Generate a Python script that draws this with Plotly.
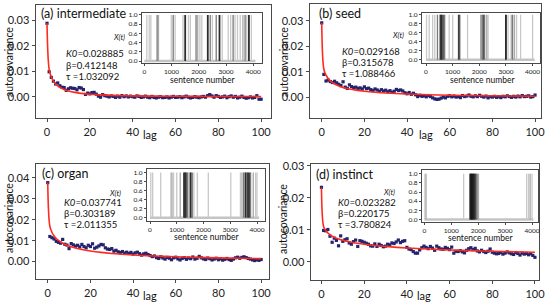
import plotly.graph_objects as go

W, H = 548, 302

# ---------------- data ----------------
panel_titles = ["(a) intermediate", "(b) seed", "(c) organ", "(d) instinct"]
K0_vals = ["0.028885", "0.029168", "0.037741", "0.023282"]
beta_vals = ["0.412148", "0.315678", "0.303189", "0.220175"]
tau_vals = ["1.032092", "1.088466", "2.011355", "3.780824"]

lags = list(range(101))

acov_a = [0.0289, 0.0098, 0.0076, 0.0061, 0.0050, 0.0054, 0.0043, 0.0037, 0.0036, 0.0025,
          0.0031, 0.0035, 0.0033, 0.0032, 0.0027, 0.0036, 0.0034, 0.0028, 0.0009, 0.0014,
          0.0011, 0.0016, 0.0017, 0.0010, 0.0002, -0.0002, 0.0008, 0.0004, 0.0002, -0.0001,
          0.0003, 0.0001, -0.0003, 0.0002, -0.0002, 0.0004, 0.0000, 0.0003, -0.0001, 0.0002,
          0.0000, -0.0002, 0.0003, 0.0001, -0.0003, -0.0001, 0.0002, -0.0002, -0.0004, 0.0001,
          -0.0003, -0.0005, -0.0002, 0.0000, -0.0004, -0.0003, -0.0001, -0.0005, -0.0002, 0.0001,
          -0.0003, -0.0002, 0.0000, -0.0004, -0.0001, 0.0002, -0.0002, -0.0005, -0.0003, 0.0000,
          -0.0002, -0.0004, -0.0001, 0.0001, -0.0002, 0.0004, 0.0008, 0.0003, -0.0002, 0.0004,
          0.0001, -0.0003, -0.0001, 0.0002, -0.0004, 0.0000, 0.0003, -0.0002, 0.0001, -0.0005,
          -0.0002, 0.0002, -0.0003, -0.0006, -0.0004, -0.0001, -0.0005, -0.0003, 0.0004, -0.0010,
          -0.0010]

acov_b = [0.0292, 0.0090, 0.0064, 0.0068, 0.0062, 0.0058, 0.0063, 0.0057, 0.0051, 0.0046,
          0.0061, 0.0040, 0.0035, 0.0049, 0.0042, 0.0038, 0.0040, 0.0035, 0.0037, 0.0033,
          0.0041, 0.0034, 0.0036, 0.0030, 0.0027, 0.0033, 0.0029, 0.0024, 0.0030, 0.0025,
          0.0028, 0.0022, 0.0026, 0.0020, 0.0024, 0.0031, 0.0027, 0.0029, 0.0025, 0.0018,
          0.0014, 0.0019, 0.0012, 0.0016, 0.0010, 0.0003, 0.0008, 0.0004, 0.0006, 0.0002,
          0.0007, 0.0003, -0.0002, -0.0006, -0.0008, -0.0007, -0.0003, 0.0001, -0.0002, 0.0004,
          0.0006, 0.0002, 0.0005, 0.0001, 0.0003, -0.0001, 0.0007, 0.0003, 0.0005, 0.0009,
          0.0004, 0.0002, 0.0006, 0.0003, 0.0008, 0.0004, 0.0001, 0.0005, -0.0002, 0.0003,
          0.0001, 0.0004, 0.0000, 0.0003, -0.0001, 0.0004, 0.0002, 0.0006, 0.0003, 0.0000,
          0.0004, 0.0001, 0.0005, 0.0002, 0.0007, 0.0003, 0.0004, 0.0006, 0.0001, 0.0003,
          0.0009]

acov_c = [0.0377, 0.0120, 0.0114, 0.0108, 0.0097, 0.0092, 0.0088, 0.0106, 0.0083, 0.0079,
          0.0062, 0.0086, 0.0080, 0.0074, 0.0078, 0.0070, 0.0082, 0.0072, 0.0066, 0.0078,
          0.0072, 0.0085, 0.0064, 0.0069, 0.0075, 0.0082, 0.0080, 0.0066, 0.0060, 0.0058,
          0.0062, 0.0050, 0.0054, 0.0047, 0.0043, 0.0048, 0.0041, 0.0045, 0.0039, 0.0044,
          0.0036, 0.0042, 0.0045, 0.0038, 0.0031, 0.0037, 0.0040, 0.0034, 0.0029, 0.0024,
          0.0027, 0.0019, 0.0015, 0.0023, 0.0017, 0.0012, 0.0020, 0.0016, 0.0009, 0.0018,
          0.0021, 0.0013, 0.0008, 0.0015, 0.0019, 0.0011, 0.0017, 0.0014, 0.0022, 0.0012,
          0.0016, 0.0025, 0.0018, 0.0013, 0.0010, 0.0017, 0.0014, 0.0008, 0.0012, 0.0016,
          0.0009, 0.0013, 0.0007, 0.0011, 0.0015, 0.0010, 0.0006, 0.0012, 0.0018, 0.0021,
          0.0016, 0.0020, 0.0023, 0.0019, 0.0015, 0.0012, 0.0008, 0.0005, 0.0009, 0.0006,
          0.0010]

acov_d = [0.0233, 0.0098, 0.0097, 0.0101, 0.0080, 0.0061, 0.0074, 0.0067, 0.0050, 0.0081,
          0.0064, 0.0069, 0.0072, 0.0059, 0.0055, 0.0063, 0.0068, 0.0048, 0.0066, 0.0064,
          0.0061, 0.0058, 0.0055, 0.0050, 0.0049, 0.0056, 0.0048, 0.0055, 0.0051, 0.0047,
          0.0049, 0.0055, 0.0053, 0.0059, 0.0057, 0.0062, 0.0068, 0.0060, 0.0064, 0.0066,
          0.0045, 0.0040, 0.0038, 0.0032, 0.0027, 0.0027, 0.0037, 0.0044, 0.0049, 0.0045,
          0.0041, 0.0048, 0.0043, 0.0036, 0.0049, 0.0044, 0.0040, 0.0039, 0.0045, 0.0042,
          0.0038, 0.0046, 0.0027, 0.0033, 0.0032, 0.0035, 0.0031, 0.0028, 0.0036, 0.0041,
          0.0044, 0.0038, 0.0042, 0.0034, 0.0031, 0.0036, 0.0032, 0.0029, 0.0033, 0.0040,
          0.0030, 0.0027, 0.0025, 0.0026, 0.0029, 0.0024, 0.0027, 0.0031, 0.0028, 0.0025,
          0.0023, 0.0029, 0.0026, 0.0021, 0.0027, 0.0024, 0.0026, 0.0022, 0.0025, 0.0020,
          0.0014]

fit_lags = [0, 1, 2, 3, 4, 5, 6, 8, 10, 13, 16, 20, 25, 30, 40, 50, 60, 70, 80, 90, 100]
fit_a = [0.02889, 0.01077, 0.00777, 0.00612, 0.00503, 0.00425, 0.00366, 0.00282, 0.00226, 0.00169,
         0.00131, 0.00097, 0.00070, 0.00052, 0.00032, 0.00021, 0.00014, 0.00010, 0.00007, 0.00005, 0.00004]
fit_b = [0.02917, 0.01102, 0.00868, 0.00736, 0.00646, 0.00578, 0.00525, 0.00446, 0.00389, 0.00327,
         0.00282, 0.00238, 0.00198, 0.00169, 0.00129, 0.00103, 0.00084, 0.00070, 0.00060, 0.00052, 0.00045]
fit_c = [0.03774, 0.01681, 0.01391, 0.01220, 0.01101, 0.01010, 0.00937, 0.00826, 0.00742, 0.00649,
         0.00579, 0.00508, 0.00441, 0.00390, 0.00317, 0.00267, 0.00229, 0.00201, 0.00178, 0.00159, 0.00144]
fit_d = [0.02328, 0.01104, 0.00976, 0.00900, 0.00846, 0.00804, 0.00770, 0.00716, 0.00674, 0.00627,
         0.00589, 0.00550, 0.00511, 0.00481, 0.00433, 0.00398, 0.00370, 0.00348, 0.00329, 0.00312, 0.00298]

# occurrence positions (sentence number) and number of overlapping occurrences
occ_pos_a = [90, 180, 240, 470, 520, 990, 1060, 1130, 1420, 1500, 1620, 1690, 1900, 1960, 2040,
             2110, 2330, 2420, 2500, 2640, 2760, 2860, 3080, 3170, 3260, 3330, 3420, 3520, 3620,
             3700, 3760, 3840, 3930]
occ_cnt_a = [1, 1, 1, 3, 2, 1, 3, 1, 1, 6, 1, 1, 3, 2, 1,
             1, 6, 3, 1, 3, 6, 1, 1, 1, 3, 1, 1, 1, 2,
             3, 1, 6, 1]
occ_pos_b = [20, 120, 250, 330, 430, 540, 580, 640, 700, 870, 1000, 1230, 1270, 1560, 2050,
             2100, 2150, 2200, 2280, 2330, 3000, 3080, 3200, 3250, 3320, 3400, 3550, 4000]
occ_cnt_b = [1, 1, 1, 1, 3, 5, 6, 4, 3, 1, 1, 5, 3, 1, 2,
             3, 4, 3, 2, 1, 7, 1, 2, 3, 2, 1, 1, 1]
occ_pos_c = [30, 100, 400, 780, 820, 880, 1000, 1130, 1270, 1310, 1350, 1400, 1460, 1520, 1580,
             1640, 1770, 2180, 3020, 3380, 3440, 3500, 3570, 3640, 3700, 3760, 3860, 3950, 4000]
occ_cnt_c = [1, 1, 1, 1, 2, 1, 1, 2, 5, 6, 4, 3, 2, 6, 3,
             1, 1, 1, 1, 1, 2, 3, 6, 5, 6, 3, 2, 1, 1]
occ_pos_d = [20, 60, 1460, 1700, 1730, 1760, 1790, 1830, 1870, 1910, 1960, 2010, 3800, 3870, 3930, 4000]
occ_cnt_d = [1, 2, 1, 5, 7, 8, 6, 7, 5, 4, 3, 2, 1, 1, 2, 1]
sentence_total = [4080, 4080, 4080, 4050]

acov_all = [acov_a, acov_b, acov_c, acov_d]
fit_all = [fit_a, fit_b, fit_c, fit_d]
occ_pos_all = [occ_pos_a, occ_pos_b, occ_pos_c, occ_pos_d]
occ_cnt_all = [occ_cnt_a, occ_cnt_b, occ_cnt_c, occ_cnt_d]

# ---------------- layout geometry (pixels) ----------------
main_box = [(36, 271, 5, 118), (310, 541, 4, 118), (36, 269, 164, 279), (311, 539, 164, 280)]
main_xr = [[-5.14, 104.6], [-5.5, 102.8], [-5.5, 103.7], [-4.9, 101.9]]
main_yr = [[-0.0084, 0.0361], [-0.0081, 0.0366], [-0.0083, 0.0466], [-0.0057, 0.0306]]
main_ytick = [[0, 0.01, 0.02, 0.03], [0, 0.01, 0.02, 0.03], [0, 0.01, 0.02, 0.03, 0.04], [0, 0.01, 0.02, 0.03]]
ins_box = [(142, 262, 13, 63), (422, 540, 13, 63), (147, 265, 169, 221), (422, 538, 170, 222)]
ins_xr = [[-85, 4320], [-150, 4278], [-112, 4299], [-89, 4223]]
ins_yr = [[-0.043, 1.043], [-0.073, 1.038], [-0.073, 1.075], [-0.053, 1.08]]

title_pos = [(39, 13), (317, 13.5), (40, 174), (314, 174.5)]
param_pos = [(64, 53.5, 65, 76.5), (340, 51.5, 62.5, 73.5), (62, 202.5, 213.5, 224.5), (336, 202.5, 213.5, 224.5)]
lag_pos = [(150, 135), (426, 135), (150, 295), (424, 295)]
ylab_pos = [(9, 62), (284, 62), (9, 218), (283, 219)]
xt_pos = [(119, 38), (398, 36), (115, 193.5), (389, 192)]
sn_pos = [(202, 80.5), (482, 79.5), (206, 237), (480, 237.5)]

FONT = "Lato, 'Open Sans', sans-serif"
NAVY = "#24246e"
RED = "#ff2a1f"
FRAME = "#4a4a4a"


def px(x):
    return x / W


def py(y):
    return 1 - y / H


fig = go.Figure()
layout = dict(width=W, height=H, margin=dict(l=0, r=0, t=0, b=0, autoexpand=False),
              template="none",
              paper_bgcolor="white", plot_bgcolor="white", showlegend=False,
              font=dict(family=FONT, color="#222"))
annotations = []


def ann(text, x, y, size, xanchor="left", angle=0, family=FONT):
    annotations.append(dict(text=text, x=px(x), y=py(y), xref="paper", yref="paper",
                            xanchor=xanchor, yanchor="middle", showarrow=False,
                            textangle=angle, font=dict(size=size, family=family, color="#111")))


for i in range(4):
    mx, my = f"x{i + 1 if i else ''}", f"y{i + 1 if i else ''}"
    ix, iy = f"x{i + 5}", f"y{i + 5}"
    groups = {}
    for p, c in zip(occ_pos_all[i], occ_cnt_all[i]):
        groups.setdefault(c, []).append(p)
    fig.add_trace(go.Scatter(x=[0, sentence_total[i]], y=[0, 0], mode="lines",
                             line=dict(color="#c4c4c4", width=2.5), xaxis=ix, yaxis=iy,
                             hoverinfo="skip"))
    for c in sorted(groups):
        xs, ys = [], []
        for p in groups[c]:
            xs += [p, p, None]
            ys += [0, 1, None]
        g = int(round(235 * (0.72 ** (c - 1))))
        g = max(min(g, 200), 20)
        fig.add_trace(go.Scatter(x=xs, y=ys, mode="lines",
                                 line=dict(color=f"rgb({g},{g},{g})", width=1.3 if c < 4 else 1.8),
                                 xaxis=ix, yaxis=iy, hoverinfo="skip"))
    fig.add_trace(go.Scatter(x=lags, y=acov_all[i], mode="markers",
                             marker=dict(symbol="square", size=3.2, color=NAVY, line=dict(width=0)),
                             xaxis=mx, yaxis=my))
    fig.add_trace(go.Scatter(x=fit_lags, y=fit_all[i], mode="lines", line=dict(color=RED, width=1.6),
                             line_shape="spline", xaxis=mx, yaxis=my))

    x0, x1, y0, y1 = main_box[i]
    axname_x = "xaxis" + (str(i + 1) if i else "")
    axname_y = "yaxis" + (str(i + 1) if i else "")
    common = dict(ticks="outside", tickcolor=FRAME, showline=True, mirror=True, linecolor=FRAME,
                  showgrid=False, zeroline=False, automargin=False, fixedrange=True)
    layout[axname_x] = dict(domain=[px(x0), px(x1)], range=main_xr[i], anchor=my,
                            tickvals=[0, 20, 40, 60, 80, 100], ticklen=3, linewidth=1.4,
                            tickfont=dict(size=11, family=FONT, color="#222"), **common)
    layout[axname_y] = dict(domain=[py(y1), py(y0)], range=main_yr[i], anchor=mx,
                            tickvals=main_ytick[i], tickformat=".2f", ticklen=3, linewidth=1.4,
                            tickfont=dict(size=11, family=FONT, color="#222"), **common)
    a0, a1, b0, b1 = ins_box[i]
    layout[f"xaxis{i + 5}"] = dict(domain=[px(a0), px(a1)], range=ins_xr[i], anchor=iy,
                                   tickvals=[0, 1000, 2000, 3000, 4000], ticklen=2, linewidth=1.2,
                                   tickfont=dict(size=6.5, family=FONT, color="#222"), **common)
    layout[f"yaxis{i + 5}"] = dict(domain=[py(b1), py(b0)], range=ins_yr[i], anchor=ix,
                                   tickvals=[0, 0.2, 0.4, 0.6, 0.8, 1.0], tickformat=".1f",
                                   ticklen=2, linewidth=1.2,
                                   tickfont=dict(size=6.5, family=FONT, color="#222"), **common)

    tx, ty = title_pos[i]
    ann(panel_titles[i], tx, ty, 12.5)
    kx, ky, by_, ty_ = param_pos[i]
    ann(f"<i>K0</i>={K0_vals[i]}", kx, ky, 9.5)
    ann(f"β={beta_vals[i]}", kx, by_, 9.5)
    ann(f"τ ={tau_vals[i]}", kx, ty_, 9.5)
    lx, ly = lag_pos[i]
    ann("lag", lx, ly, 11, xanchor="center")
    yx, yy = ylab_pos[i]
    ann("autocovariance", yx, yy, 10.5, xanchor="center", angle=-90)
    xx, xy = xt_pos[i]
    ann("<i>X(t)</i>", xx, xy, 7.5, xanchor="center")
    sx, sy = sn_pos[i]
    ann("sentence number", sx, sy, 8.5, xanchor="center")

layout["annotations"] = annotations
fig.update_layout(**layout)
fig.write_html("out.html", config={"displayModeBar": False, "staticPlot": True},
               post_script="document.body.style.margin='0';document.body.style.overflow='hidden';")
